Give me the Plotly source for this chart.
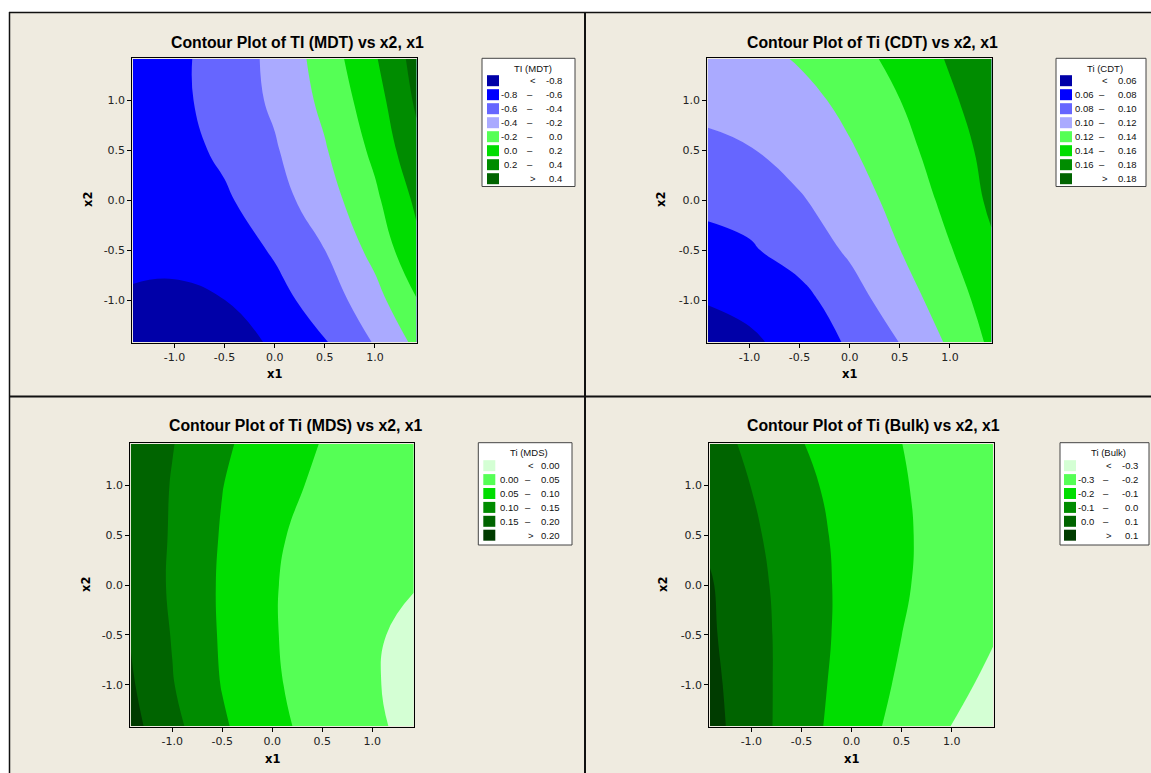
import plotly.graph_objects as go

# ---------------- data ----------------
X1 = [-1.414, -1.0, -0.5, 0.0, 0.5, 1.0, 1.414]
X2 = [-1.414, -1.0, -0.5, 0.0, 0.5, 1.0, 1.414]

# rows: x2 ascending, columns: x1 ascending
Z_MDT = [
    [-0.84, -0.87, -0.85, -0.785, -0.615, -0.385, -0.155],
    [-0.815, -0.83, -0.802, -0.669, -0.509, -0.274, -0.01],
    [-0.77, -0.76, -0.71, -0.579, -0.402, -0.138, 0.15],
    [-0.745, -0.703, -0.63, -0.479, -0.292, -0.04, 0.235],
    [-0.745, -0.679, -0.56, -0.42, -0.217, 0.045, 0.345],
    [-0.73, -0.65, -0.519, -0.368, -0.153, 0.116, 0.43],
    [-0.72, -0.647, -0.515, -0.351, -0.113, 0.18, 0.475],
]
Z_CDT = [
    [0.0486, 0.056, 0.0688, 0.0822, 0.1004, 0.123, 0.1437],
    [0.0614, 0.0664, 0.073, 0.0916, 0.1102, 0.1303, 0.149],
    [0.0733, 0.0775, 0.0886, 0.1026, 0.1197, 0.1387, 0.157],
    [0.0847, 0.088, 0.098, 0.1109, 0.126, 0.1456, 0.1635],
    [0.095, 0.099, 0.1083, 0.1179, 0.1331, 0.151, 0.1664],
    [0.106, 0.108, 0.1128, 0.1259, 0.1398, 0.1569, 0.171],
    [0.108, 0.112, 0.122, 0.1327, 0.1453, 0.162, 0.1766],
]
Z_MDS = [
    [0.216, 0.1638, 0.1065, 0.062, 0.0322, 0.0076, -0.012],
    [0.2057, 0.1526, 0.0979, 0.0561, 0.0289, 0.0042, -0.015],
    [0.197, 0.1475, 0.0944, 0.0535, 0.0267, 0.0056, -0.011],
    [0.185, 0.1437, 0.0935, 0.0532, 0.029, 0.0115, 0.002],
    [0.187, 0.1453, 0.0963, 0.0581, 0.030, 0.0098, 0.004],
    [0.188, 0.1472, 0.101, 0.0682, 0.040, 0.021, 0.0086],
    [0.19, 0.152, 0.1075, 0.0762, 0.048, 0.031, 0.0186],
]
Z_BULK = [
    [0.135, 0.0438, -0.06, -0.1517, -0.231, -0.3014, -0.359],
    [0.126, 0.0418, -0.056, -0.1413, -0.2142, -0.2735, -0.323],
    [0.114, 0.038, -0.0523, -0.1318, -0.1995, -0.255, -0.293],
    [0.108, 0.031, -0.0548, -0.1284, -0.19, -0.242, -0.28],
    [0.085, 0.017, -0.0628, -0.1308, -0.1885, -0.236, -0.27],
    [0.0566, -0.0015, -0.0785, -0.1388, -0.1928, -0.239, -0.274],
    [0.036, -0.0185, -0.0967, -0.1485, -0.1993, -0.244, -0.279],
]

LEVELS_MDT = [-0.8, -0.6, -0.4, -0.2, 0.0, 0.2, 0.4]
LEVELS_CDT = [0.06, 0.08, 0.10, 0.12, 0.14, 0.16, 0.18]
LEVELS_MDS = [0.00, 0.05, 0.10, 0.15, 0.20]
LEVELS_BULK = [-0.3, -0.2, -0.1, 0.0, 0.1]

COLORS_BLUE_GREEN = ["#0000A8", "#0000FF", "#6666FF", "#AAAAFF",
                     "#55FF55", "#00DD00", "#008C00", "#006400"]
COLORS_GREEN = ["#D4FFD4", "#55FF55", "#00DD00", "#008C00", "#006400", "#003C00"]

TITLES = ["Contour Plot of TI (MDT) vs x2, x1", "Contour Plot of Ti (CDT) vs x2, x1",
          "Contour Plot of Ti (MDS) vs x2, x1", "Contour Plot of Ti (Bulk) vs x2, x1"]
LEGEND_TITLES = ["TI (MDT)", "Ti (CDT)", "Ti (MDS)", "Ti (Bulk)"]
DECIMALS = [1, 2, 2, 1]
TICK_VALS = [-1.0, -0.5, 0.0, 0.5, 1.0]
TICK_TEXT = ["-1.0", "-0.5", "0.0", "0.5", "1.0"]

# ---------------- layout geometry (window pixels) ----------------
W, H = 1151, 773
def px(x):
    return x / W
def py(y):
    return 1 - y / H

panels = [
    dict(z=Z_MDT, lv=LEVELS_MDT, col=COLORS_BLUE_GREEN, plot=(132.3, 58.3, 417.0, 342.7),
         title_x=297, title_y=42, xlab=(274.6, 374), ylab=(88, 200),
         leg=(482, 58.3, 575, 186.5), leg_off=(5, 17, 37, 48, 82), row0=22.4, rowh=14.0),
    dict(z=Z_CDT, lv=LEVELS_CDT, col=COLORS_BLUE_GREEN, plot=(707.3, 58.3, 992.0, 342.7),
         title_x=872, title_y=42, xlab=(849.6, 374), ylab=(661, 200),
         leg=(1056, 58.3, 1146, 186.5), leg_off=(4, 16, 40, 46, 83), row0=22.4, rowh=14.0),
    dict(z=Z_MDS, lv=LEVELS_MDS, col=COLORS_GREEN, plot=(130.3, 443.3, 414.3, 726.7),
         title_x=296, title_y=425, xlab=(272.3, 759), ylab=(86, 585),
         leg=(478.3, 442.7, 572, 545), leg_off=(5, 17, 43, 50, 84), row0=23.0, rowh=13.9),
    dict(z=Z_BULK, lv=LEVELS_BULK, col=COLORS_GREEN, plot=(709.3, 443.3, 993.7, 726.7),
         title_x=873, title_y=425, xlab=(851.5, 759), ylab=(663, 585),
         leg=(1060, 442.7, 1149, 545), leg_off=(4, 16, 36, 46, 80), row0=23.0, rowh=13.9),
]

BG = "#EFEBE0"
TICKFONT = dict(family="DejaVu Sans", size=11, color="#222222")
fig = go.Figure()
shapes = []
annotations = []

# panel background and frame lines
shapes.append(dict(type="rect", xref="paper", yref="paper", x0=px(9), x1=px(W), y0=py(H), y1=py(12),
                   fillcolor=BG, line=dict(width=0), layer="below"))
for (x0, y0, x1, y1, w) in [(9, 12.5, W, 12.5, 1.5), (9.5, 12, 9.5, H, 1.5),
                            (585, 12, 585, H, 2), (9, 396.5, W, 396.5, 2)]:
    shapes.append(dict(type="line", xref="paper", yref="paper", x0=px(x0), x1=px(x1),
                       y0=py(y0), y1=py(y1), line=dict(color="#111111", width=w)))

for i, p in enumerate(panels):
    lv = p["lv"]
    nc = len(lv)
    step = round(lv[1] - lv[0], 6)
    cols = p["col"]
    colorscale = [[k / nc, c] for k, c in enumerate(cols)]
    xa = "x" if i == 0 else f"x{i+1}"
    ya = "y" if i == 0 else f"y{i+1}"
    fig.add_trace(go.Contour(
        x=X1, y=X2, z=p["z"], xaxis=xa, yaxis=ya,
        contours=dict(start=lv[0], end=lv[-1], size=step, coloring="fill", showlines=False),
        colorscale=colorscale, showscale=False, line=dict(width=0, smoothing=1.3),
        hoverinfo="skip"))
    L, T, R, B = p["plot"]
    axkw = dict(showline=True, linecolor="#000000", linewidth=1, mirror=True,
                ticks="outside", ticklen=4, tickcolor="#000000", showgrid=False, zeroline=False,
                tickvals=TICK_VALS, ticktext=TICK_TEXT, tickfont=TICKFONT, range=[-1.42, 1.42],
                fixedrange=True)
    lname_x = "xaxis" if i == 0 else f"xaxis{i+1}"
    lname_y = "yaxis" if i == 0 else f"yaxis{i+1}"
    fig.update_layout(**{
        lname_x: dict(domain=[px(L), px(R)], anchor=ya, **axkw),
        lname_y: dict(domain=[py(B), py(T)], anchor=xa, **axkw),
    })
    # titles
    annotations.append(dict(xref="paper", yref="paper", x=px(p["title_x"]), y=py(p["title_y"]),
                            text=f"<b>{TITLES[i]}</b>", showarrow=False, xanchor="center", yanchor="middle",
                            font=dict(family="Liberation Sans", size=15.8, color="#000000")))
    annotations.append(dict(xref="paper", yref="paper", x=px(p["xlab"][0]), y=py(p["xlab"][1]),
                            text="<b>x1</b>", showarrow=False, xanchor="center", yanchor="middle",
                            font=dict(family="DejaVu Sans", size=11.5, color="#000000")))
    annotations.append(dict(xref="paper", yref="paper", x=px(p["ylab"][0]), y=py(p["ylab"][1]),
                            text="<b>x2</b>", showarrow=False, xanchor="center", yanchor="middle",
                            textangle=-90,
                            font=dict(family="DejaVu Sans", size=11.5, color="#000000")))
    # legend box
    lL, lT, lR, lB = p["leg"]
    shapes.append(dict(type="rect", xref="paper", yref="paper", x0=px(lL), x1=px(lR), y0=py(lB), y1=py(lT),
                       fillcolor="#FFFFFF", line=dict(color="#444444", width=1)))
    sw0, sw1, lowR, dashX, highR = p["leg_off"]
    annotations.append(dict(xref="paper", yref="paper", x=px((lL + lR) / 2 + 4), y=py(lT + 10),
                            text=LEGEND_TITLES[i], showarrow=False, xanchor="center", yanchor="middle",
                            font=dict(family="Liberation Sans", size=9.5, color="#111111")))
    fmt = "{:.%df}" % DECIMALS[i]
    nb = len(cols)
    lf = dict(family="Liberation Sans", size=9.5, color="#111111")
    for k in range(nb):
        yc = lT + p["row0"] + k * p["rowh"]
        shapes.append(dict(type="rect", xref="paper", yref="paper", x0=px(lL + sw0), x1=px(lL + sw0 + 12),
                           y0=py(yc + 5.5), y1=py(yc - 5.5), fillcolor=cols[k], line=dict(width=0)))
        if k == 0:
            annotations.append(dict(xref="paper", yref="paper", x=px(lL + dashX + 3), y=py(yc), text="&lt;",
                                    showarrow=False, xanchor="center", yanchor="middle", font=lf))
            annotations.append(dict(xref="paper", yref="paper", x=px(lL + highR), y=py(yc), text=fmt.format(lv[0]),
                                    showarrow=False, xanchor="right", yanchor="middle", font=lf))
        elif k == nb - 1:
            annotations.append(dict(xref="paper", yref="paper", x=px(lL + dashX + 3), y=py(yc), text="&gt;",
                                    showarrow=False, xanchor="center", yanchor="middle", font=lf))
            annotations.append(dict(xref="paper", yref="paper", x=px(lL + highR), y=py(yc), text=fmt.format(lv[-1]),
                                    showarrow=False, xanchor="right", yanchor="middle", font=lf))
        else:
            annotations.append(dict(xref="paper", yref="paper", x=px(lL + lowR), y=py(yc), text=fmt.format(lv[k - 1]),
                                    showarrow=False, xanchor="right", yanchor="middle", font=lf))
            annotations.append(dict(xref="paper", yref="paper", x=px(lL + dashX), y=py(yc), text="–",
                                    showarrow=False, xanchor="center", yanchor="middle", font=lf))
            annotations.append(dict(xref="paper", yref="paper", x=px(lL + highR), y=py(yc), text=fmt.format(lv[k]),
                                    showarrow=False, xanchor="right", yanchor="middle", font=lf))

fig.update_layout(width=W, height=H, margin=dict(l=0, r=0, t=0, b=0, pad=0),
                  paper_bgcolor="#FFFFFF", plot_bgcolor=BG, showlegend=False,
                  shapes=shapes, annotations=annotations)
# remove the default page margin so the figure fills the window exactly
fig.write_html("out.html", config={"displayModeBar": False},
               post_script="document.body.style.margin='0px';document.body.style.overflow='hidden';")
